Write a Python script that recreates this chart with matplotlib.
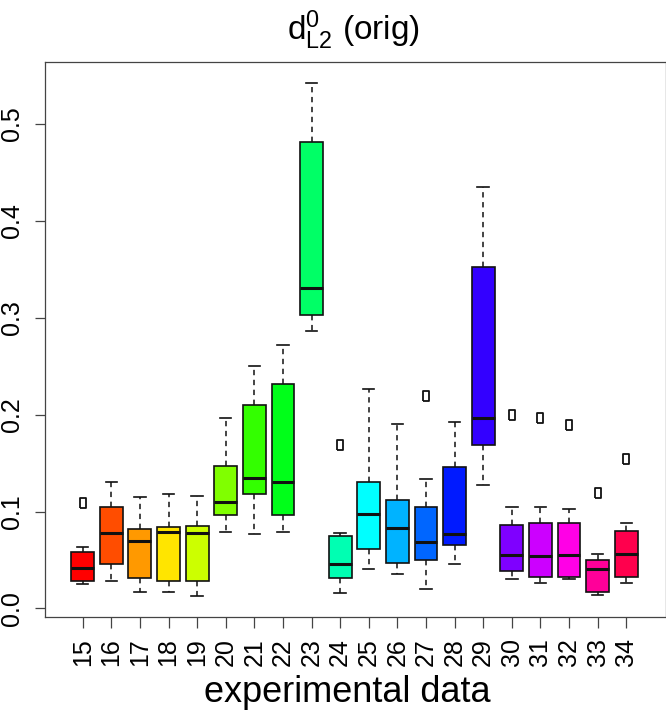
import matplotlib
matplotlib.use("Agg")
import matplotlib.pyplot as plt

labels = [str(v) for v in range(15, 35)]
whislo = [.0248, .0279, .0175, .0165, .0124, .079, .077, .079, .2865, .0161,
          .0402, .0357, .0199, .0454, .1272, .0299, .0261, .0306, .0134, .0264]
q1 = [.0279, .0457, .031, .0282, .0279, .0963, .1183, .0963, .3024, .0316,
      .0615, .0464, .0498, .065, .1685, .0388, .0323, .0323, .0172, .0323]
med = [.0413, .0774, .0691, .0784, .078, .1094, .1341, .1307, .3309, .046,
       .0977, .0826, .0687, .0764, .1964, .0547, .0537, .055, .0406, .056]
q3 = [.0578, .1042, .0815, .0842, .0849, .1465, .2101, .2318, .4812, .0746,
      .1307, .1121, .1045, .1461, .3522, .0863, .088, .088, .0498, .0798]
whishi = [.0633, .1307, .1152, .1176, .1156, .196, .2497, .2714, .5424, .0774,
          .2263, .1902, .1338, .192, .4351, .1045, .1045, .1022, .056, .0884]
outliers = [[.109], [], [], [], [], [], [], [], [], [.169],
            [], [], [.2194], [], [], [.1995], [.1967], [.1889], [.1187], [.1541]]
colors = ["#FF0000", "#FF4D00", "#FF9900", "#FFE500", "#CCFF00", "#80FF00",
          "#33FF00", "#00FF19", "#00FF66", "#00FFB2", "#00FFFF", "#00B3FF",
          "#0066FF", "#001AFF", "#3300FF", "#7F00FF", "#CC00FF", "#FF00E6",
          "#FF0099", "#FF004D"]

plt.rcParams['font.family'] = ['Liberation Sans', 'DejaVu Sans']
plt.rcParams['mathtext.fontset'] = 'custom'
plt.rcParams['mathtext.rm'] = 'Liberation Sans'
plt.rcParams['mathtext.it'] = 'Liberation Sans'

fig = plt.figure(figsize=(6.66, 7.11), dpi=100)
ax = fig.add_axes([45/666, 1-617/711, 621/666, 555/711])

stats = []
for i in range(len(labels)):
    stats.append(dict(whislo=whislo[i], q1=q1[i], med=med[i], q3=q3[i],
                      whishi=whishi[i], fliers=outliers[i]))
positions = list(range(1, len(labels)+1))

rect = [(-0.5, -1), (0.5, -1), (0.5, 1), (-0.5, 1), (-0.5, -1)]
bp = ax.bxp(stats, positions=positions, widths=0.8, capwidths=0.4,
            patch_artist=True, manage_ticks=False,
            boxprops=dict(edgecolor='#111111', linewidth=1.2),
            whiskerprops=dict(color='#111111', linewidth=1.1, linestyle=(0, (3.5, 3))),
            capprops=dict(color='#111111', linewidth=1.2),
            medianprops=dict(color='#111111', linewidth=2.2, solid_capstyle='butt'),
            flierprops=dict(marker=rect, markersize=7.5, markerfacecolor='none',
                            markeredgecolor='#111111', markeredgewidth=1.3,
                            linestyle='none'))
for patch, c in zip(bp['boxes'], colors):
    patch.set_facecolor(c)

ax.set_xlim(-0.318, 21.39)
ax.set_ylim(-0.0088, 0.5637)
ax.set_xticks(positions)
ax.set_xticklabels(labels, rotation=90, fontsize=18)
ax.set_yticks([0.0, 0.1, 0.2, 0.3, 0.4, 0.5])
ax.set_yticklabels(['0.0', '0.1', '0.2', '0.3', '0.4', '0.5'], rotation=90,
                   fontsize=18, va='center')
ax.tick_params(axis='y', length=7.2, width=0.9, color='#444444', pad=8)
ax.tick_params(axis='x', length=8, width=0.9, color='#444444', pad=7)
for s in ax.spines.values():
    s.set_color('#444444')
    s.set_linewidth(0.9)

fig.text(353.5/666, 1-40/711, r'$\mathregular{d^0_{L2}}$ (orig)', fontsize=24,
         ha='center', va='baseline')
fig.text(347/666, 9/711, 'experimental data', fontsize=26, ha='center',
         va='baseline')

fig.savefig('out.png', dpi=100)
